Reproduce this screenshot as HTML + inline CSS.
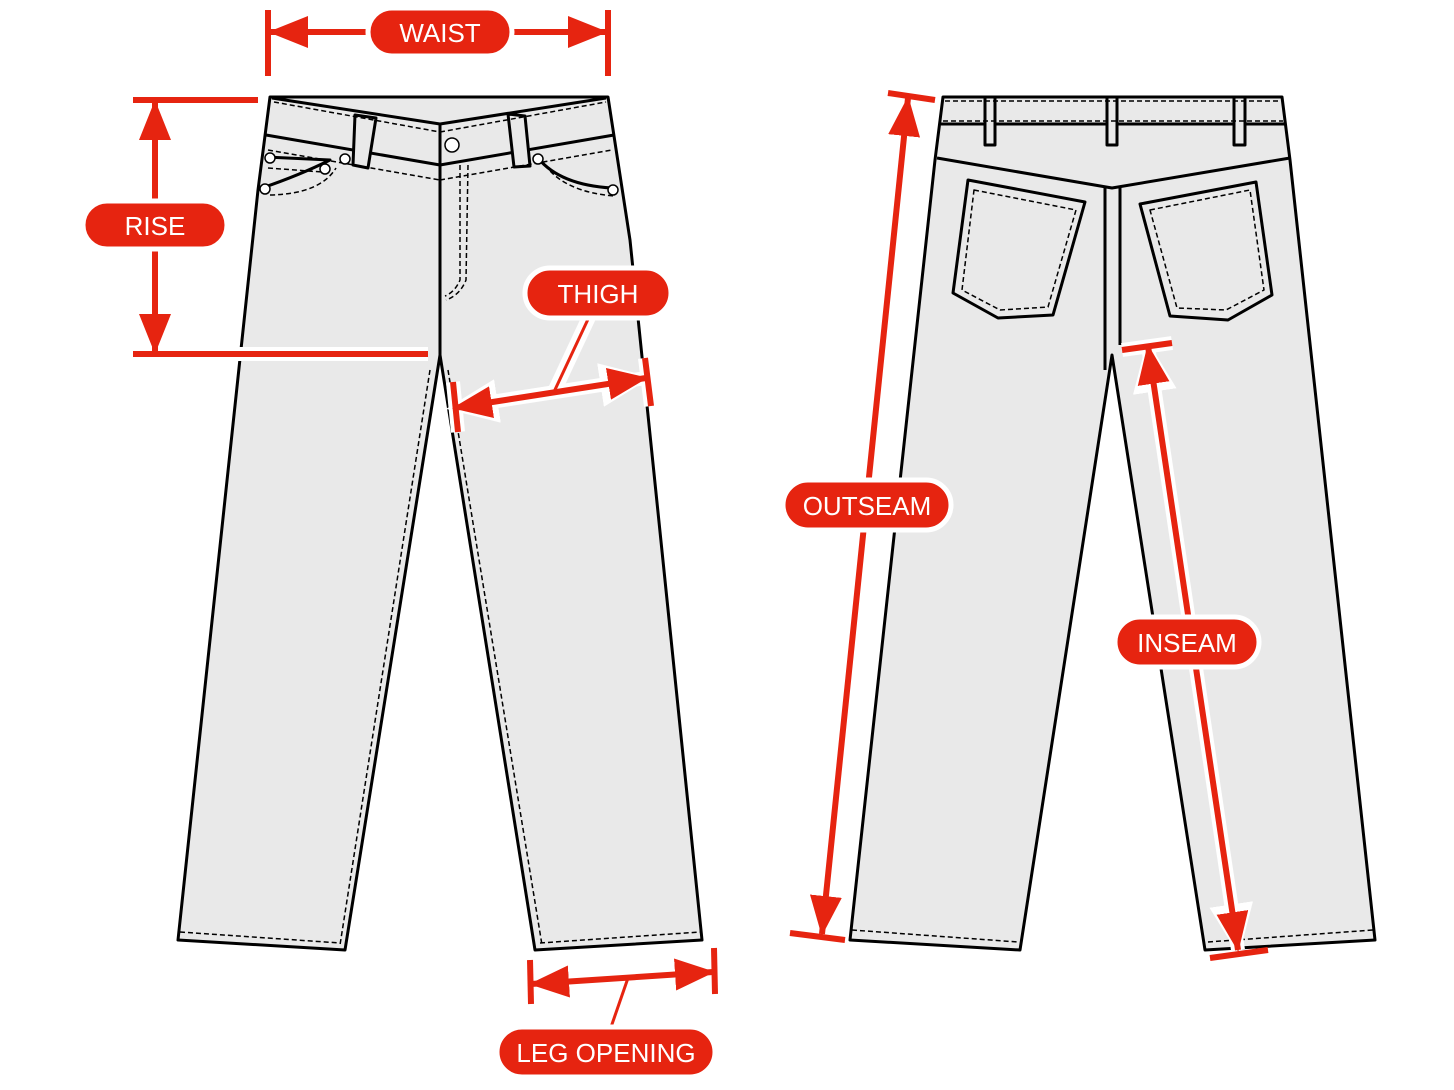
<!DOCTYPE html>
<html><head><meta charset="utf-8"><style>
html,body{margin:0;padding:0;background:#fff}
svg{display:block}
text{font-family:"Liberation Sans",sans-serif;font-size:26px;fill:#fff;text-anchor:middle;dominant-baseline:central}
</style></head><body>
<svg width="1454" height="1090" viewBox="0 0 1454 1090" xmlns="http://www.w3.org/2000/svg">
<defs>
<marker id="ah" viewBox="0 0 40 32" refX="38" refY="16" markerWidth="40" markerHeight="32" markerUnits="userSpaceOnUse" orient="auto-start-reverse"><path d="M0,0 L40,16 L0,32 Z" fill="#e62410"/></marker>
<marker id="ahw" viewBox="0 0 52 44" refX="46" refY="22" markerWidth="52" markerHeight="44" markerUnits="userSpaceOnUse" orient="auto-start-reverse"><path d="M0,0 L52,22 L0,44 Z" fill="#fff"/></marker>
</defs>
<g stroke="#000" stroke-width="3" fill="#e9e9e9" stroke-linejoin="round">
<!-- front pants -->
<path d="M270,97 L608,97 L630,240 L702,940 L535,950 L440,355 L345,950 L178,940 L258,190 Z"/>
<path d="M272,98 L440,124 L606,98 M266,135 L440,165 L614,135" fill="none"/>
<path d="M440,124 L440,355 M355,115 L376,118 L368,168 L353,165 Z M508,114 L525,116 L530,166 L514,167 Z" />
<path d="M266,157 L330,160 Q300,175 262,188 M538,158 Q560,185 612,188" fill="none"/>
<g fill="none" stroke-width="1.5" stroke-dasharray="5,3">
<path d="M274,102 L440,132 M440,132 L606,102 M268,150 L440,180 M440,180 L612,150 M268,168 L322,172 M270,195 Q320,194 336,168 M545,165 Q565,192 614,196"/>
<path d="M468,165 L466,280 Q460,295 446,300 M460,165 L460,280 Q455,292 445,296"/>
<path d="M430,370 L340,945 M448,370 L542,945 M180,932 L340,943 M540,943 L700,932"/>
<path d="M1110,185 L1110,350 M1116,185 L1116,350"/>
</g>
<circle cx="452" cy="145" r="7" fill="#fff" stroke-width="1.5"/>
<g fill="#fff" stroke-width="1.5"><circle cx="270" cy="158" r="5"/><circle cx="345" cy="159" r="5"/><circle cx="325" cy="169" r="5"/><circle cx="265" cy="189" r="5"/><circle cx="538" cy="159" r="5"/><circle cx="613" cy="190" r="5"/></g>
<!-- back pants -->
<path d="M943,97 L1282,97 L1290,160 L1375,940 L1205,950 L1112,355 L1020,950 L850,940 L935,160 Z"/>
<path d="M941,124 L1285,124 M937,158 L1112,188 L1290,158 M1105,188 L1105,370 M1120,188 L1120,345" fill="none"/>
<path d="M985,97 L995,97 L995,145 L985,145 Z M1107,97 L1117,97 L1117,145 L1107,145 Z M1234,97 L1245,97 L1245,145 L1234,145 Z"/>
<path d="M968,180 L1085,202 L1053,315 L998,318 L953,293 Z M1140,204 L1256,182 L1272,295 L1228,320 L1170,316 Z"/>
<g fill="none" stroke-width="1.5" stroke-dasharray="5,3">
<path d="M945,101 L1280,101 M943,121 L1283,121 M974,190 L1076,210 L1048,307 L1000,310 L962,290 Z M1150,210 L1250,190 L1264,290 L1226,310 L1177,308 Z M852,930 L1018,942 M1208,942 L1373,930"/>
</g>
</g>
<!-- red dimensions -->
<g stroke-linecap="butt">
<g stroke="#fff" stroke-width="14" fill="none">
<line x1="452" y1="408" x2="646" y2="378" marker-start="url(#ahw)" marker-end="url(#ahw)"/>
<line x1="453" y1="382" x2="458" y2="432"/><line x1="645" y1="358" x2="651" y2="406"/>
<line x1="908" y1="98" x2="822" y2="934" marker-start="url(#ahw)" marker-end="url(#ahw)"/>
<line x1="1148" y1="346" x2="1238" y2="950" marker-start="url(#ahw)" marker-end="url(#ahw)"/>
<line x1="1122" y1="350" x2="1172" y2="343"/>
<line x1="590" y1="315" x2="553" y2="394"/>
<line x1="135" y1="354" x2="428" y2="354"/>
</g>
<g stroke="#e62410" stroke-width="6" fill="none">
<line x1="270" y1="32" x2="606" y2="32" marker-start="url(#ah)" marker-end="url(#ah)"/>
<line x1="268" y1="10" x2="268" y2="76"/><line x1="608" y1="10" x2="608" y2="76"/>
<line x1="133" y1="100" x2="258" y2="100"/><line x1="133" y1="354" x2="428" y2="354"/>
<line x1="155" y1="102" x2="155" y2="352" marker-start="url(#ah)" marker-end="url(#ah)"/>
<line x1="454" y1="408" x2="646" y2="378" marker-start="url(#ah)" marker-end="url(#ah)"/>
<line x1="453" y1="382" x2="458" y2="432"/><line x1="645" y1="358" x2="651" y2="406"/>
<line x1="590" y1="315" x2="553" y2="394" stroke-width="3"/>
<line x1="531" y1="984" x2="713" y2="972" marker-start="url(#ah)" marker-end="url(#ah)"/>
<line x1="530" y1="960" x2="531" y2="1004"/><line x1="714" y1="948" x2="715" y2="994"/>
<line x1="628" y1="978" x2="610" y2="1030" stroke-width="3"/>
<line x1="908" y1="98" x2="822" y2="934" marker-start="url(#ah)" marker-end="url(#ah)"/>
<line x1="888" y1="93" x2="935" y2="100"/><line x1="790" y1="933" x2="845" y2="940"/>
<line x1="1148" y1="346" x2="1238" y2="950" marker-start="url(#ah)" marker-end="url(#ah)"/>
<line x1="1122" y1="350" x2="1172" y2="343"/><line x1="1210" y1="958" x2="1268" y2="950"/>
</g>
</g>
<g fill="#e62410" stroke="#fff" stroke-width="5">
<rect x="368" y="8" width="144" height="48" rx="24"/>
<rect x="83" y="201" width="144" height="48" rx="24"/>
<rect x="525" y="268" width="146" height="50" rx="25"/>
<rect x="783" y="480" width="168" height="50" rx="25"/>
<rect x="1115" y="617" width="144" height="50" rx="25"/>
<rect x="497" y="1027" width="218" height="50" rx="25"/>
</g>
<text x="440" y="33">WAIST</text>
<text x="155" y="226">RISE</text>
<text x="598" y="294">THIGH</text>
<text x="867" y="506">OUTSEAM</text>
<text x="1187" y="643">INSEAM</text>
<text x="606" y="1053">LEG OPENING</text>
</svg>
</body></html>
